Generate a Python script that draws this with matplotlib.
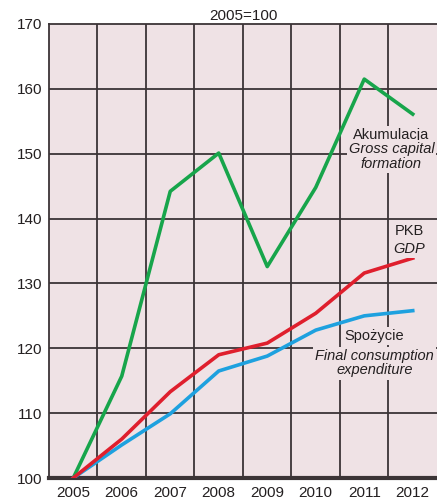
import numpy as np
import matplotlib.pyplot as plt

years = ["2005", "2006", "2007", "2008", "2009", "2010", "2011", "2012"]
akumulacja = [100, 115.7, 144.2, 150.1, 132.6, 144.8, 161.5, 156.1]
pkb = [100, 106.0, 113.3, 119.0, 120.8, 125.4, 131.6, 133.9]
spozycie = [100, 105.1, 109.9, 116.5, 118.8, 122.8, 125.0, 125.8]

plt.rcParams['font.family'] = ['Liberation Sans', 'DejaVu Sans']

bg = "#efe2e5"
grid_c = "#3b3436"
txt_c = "#231f20"

fig = plt.figure(figsize=(4.37, 5.03), dpi=100)
ax = fig.add_axes([0.1121, 0.0497, 0.8879, 0.9026])
ax.set_facecolor(bg)

x = np.arange(len(years))

# siatka
for b in np.arange(0.5, len(years) - 0.5, 1):
    ax.axvline(b, color=grid_c, lw=1.3, zorder=1)
for yv in range(110, 170, 10):
    ax.axhline(yv, color=grid_c, lw=1.3, zorder=1)

ax.plot(x, akumulacja, color="#17a54b", lw=2.6, zorder=3)
ax.plot(x, pkb, color="#df1f2d", lw=2.6, zorder=4)
ax.plot(x, spozycie, color="#1ea1df", lw=2.6, zorder=3)

ax.set_xlim(-0.5, 7.5)
ax.set_ylim(100, 170)
ax.set_xticks(x)
ax.set_xticklabels(years)
ax.set_yticks(range(100, 171, 10))
ax.tick_params(length=0, labelsize=11, colors=txt_c, pad=5)
ax.tick_params(axis="x", pad=6)

ax.spines["right"].set_visible(False)
for s in ["left", "top"]:
    ax.spines[s].set_color(grid_c)
    ax.spines[s].set_linewidth(1.3)
ax.spines["bottom"].set_color(grid_c)
ax.spines["bottom"].set_linewidth(3)

box = dict(facecolor=bg, edgecolor="none", pad=1.5)
fs = 10.5
ax.text(6.56, 152.9, "Akumulacja", fontsize=fs, ha="center", va="center",
        color=txt_c, bbox=box, zorder=5)
ax.text(6.56, 149.6, "Gross capital\nformation", fontsize=fs, ha="center", va="center",
        style="italic", color=txt_c, linespacing=1.05, bbox=box, zorder=5)

ax.text(6.93, 138.1, "PKB", fontsize=fs, ha="center", va="center",
        color=txt_c, bbox=box, zorder=5)
ax.text(6.93, 135.3, "GDP", fontsize=fs, ha="center", va="center",
        style="italic", color=txt_c, bbox=box, zorder=5)

ax.text(6.21, 121.9, "Spożycie", fontsize=fs, ha="center", va="center",
        color=txt_c, bbox=box, zorder=5)
ax.text(6.21, 117.7, "Final consumption\nexpenditure", fontsize=fs, ha="center",
        va="center", style="italic", color=txt_c, linespacing=1.05, bbox=box, zorder=5)

ax.set_title("2005=100", fontsize=11, color=txt_c, pad=3)

fig.savefig("out.png", dpi=100)
